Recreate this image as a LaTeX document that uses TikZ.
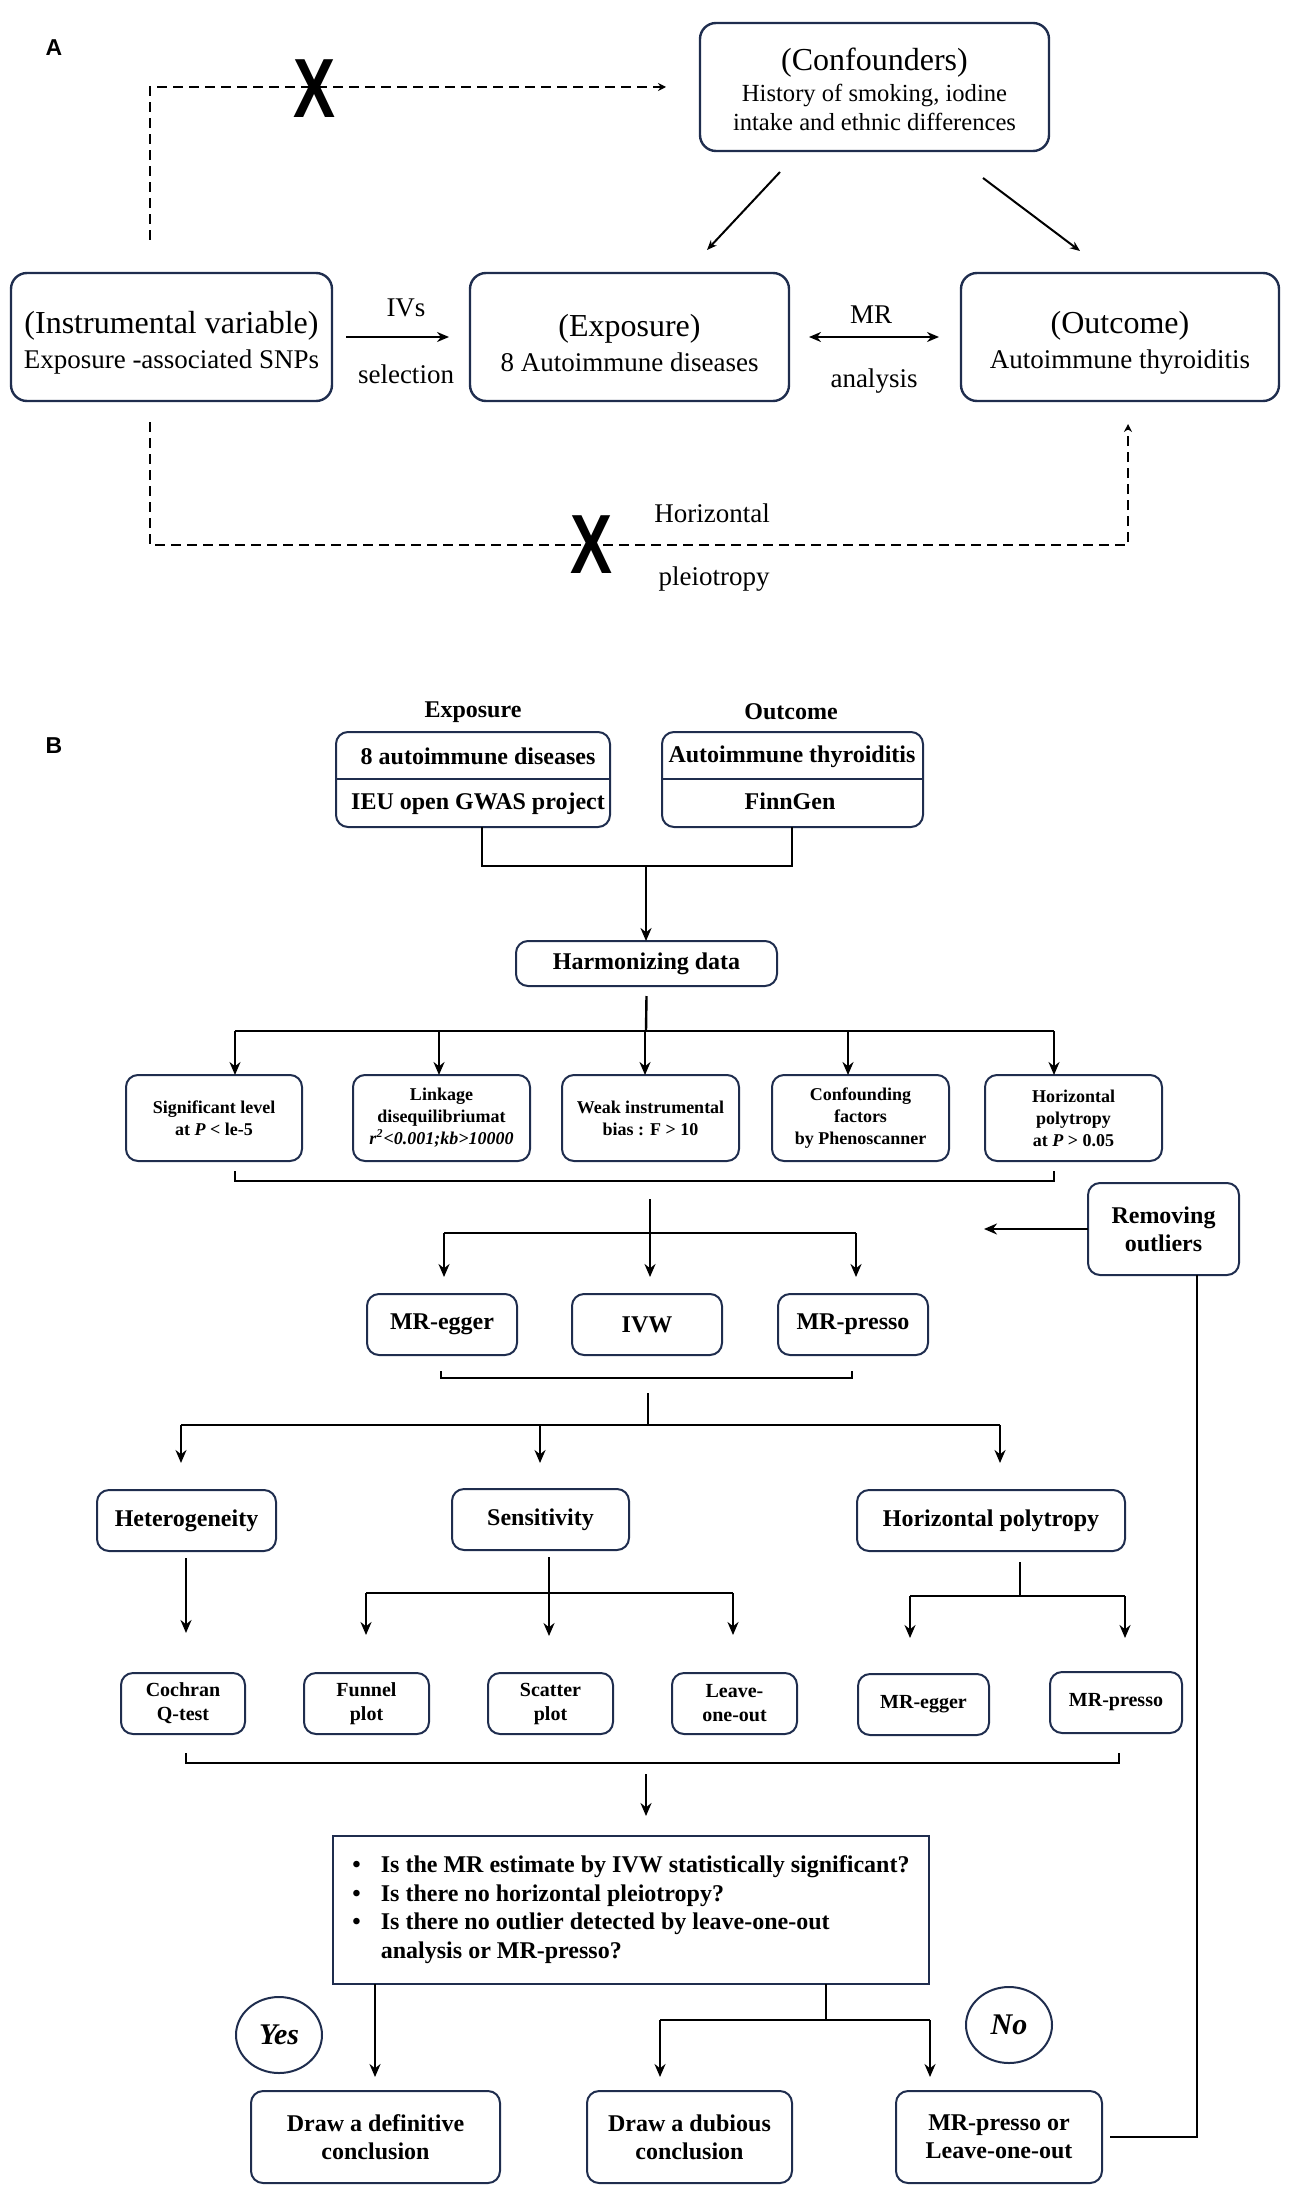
\documentclass[tikz,border=0pt]{standalone}
\usepackage{fontspec}
\setmainfont{Liberation Serif}
\newfontfamily\labfont{Liberation Sans}
\usetikzlibrary{arrows.meta,shapes.geometric}
\definecolor{navy}{HTML}{1F2D4E}
\begin{document}
\begin{tikzpicture}[x=0.5pt,y=-0.5pt,
  span/.style args={#1/#2/#3/#4}{at={({(#1+#3)/2},{(#2+#4)/2})}, minimum width={(#3-#1)*0.5pt}, minimum height={(#4-#2)*0.5pt}, outer sep=0pt},
  panellab/.style={font=\labfont\bfseries\fontsize{11.5}{13}\selectfont, inner sep=0pt},
  boxa/.style={draw=navy, line width=1.2pt, rounded corners=8pt, inner sep=0pt, align=center},
  atxt/.style={inner sep=0pt, align=center, font=\fontsize{13.5}{17.5}\selectfont},
  boxb/.style={draw=navy, line width=1pt, rounded corners=6pt, inner sep=0pt, align=center, font=\bfseries\fontsize{12}{14}\selectfont},
  smallb/.style={boxb, font=\bfseries\fontsize{9}{11}\selectfont},
  midb/.style={boxb, font=\bfseries\fontsize{10}{12}\selectfont},
  plaintxt/.style={inner sep=0pt, font=\fontsize{13.5}{16}\selectfont},
  btxt/.style={inner sep=0pt, font=\bfseries\fontsize{12}{14}\selectfont},
  crossmark/.style={inner sep=0pt, font=\labfont\bfseries\fontsize{42}{42}\selectfont},
  arrA/.style={line width=1.3pt, -{Stealth[length=6pt,width=5pt]}},
  dualA/.style={line width=1.3pt, {Stealth[length=6pt,width=5pt]}-{Stealth[length=6pt,width=5pt]}},
  thinA/.style={line width=1pt, -{Stealth[length=5pt,width=4pt]}},
  dashA/.style={line width=1.3pt, dash pattern=on 5pt off 3pt, -{Stealth[length=4pt,width=4pt]}},
  lineB/.style={line width=1.2pt},
  arrB/.style={line width=1.1pt, -{Stealth[length=6.5pt,width=5.5pt]}},
  oval/.style={draw=navy, line width=1pt, ellipse, inner sep=0pt, minimum width=43pt, minimum height=38pt, font=\bfseries\itshape\fontsize{15}{15}\selectfont},
]
\useasboundingbox (0,0) rectangle (1299,2193);

% ---------------- Panel A ----------------
\node[panellab] (labA) at (54,48) {A};
\node[boxa, span=700/23/1049/151] (conf) {};
\node[atxt, font=\fontsize{12.3}{14.5}\selectfont] (conft) at ([yshift=-1pt]conf.center)
  {{\fontsize{16}{18}\selectfont (Confounders)}\\[1pt]History of smoking, iodine\\intake and ethnic differences};
\node[boxa, span=11/273/332/401] (iv) {};
\node[atxt] (ivt) at ([yshift=-3pt]iv.center)
  {{\fontsize{16}{18}\selectfont (Instrumental variable)}\\Exposure -associated SNPs};
\node[boxa, span=470/273/789/401] (expA) {};
\node[atxt] (expAt) at ([yshift=-3pt]expA.center)
  {{\fontsize{16}{18}\selectfont (Exposure)}\\8 Autoimmune diseases};
\node[boxa, span=961/273/1279/401] (outA) {};
\node[atxt] (outAt) at ([yshift=-3pt]outA.center)
  {{\fontsize{16}{18}\selectfont (Outcome)}\\Autoimmune thyroiditis};

\coordinate (d1s) at (150,240);
\coordinate (d2s) at (150,422);
\coordinate (d2c) at (1128,545);
\coordinate (d2e) at (1128,424);
\draw[dashA, shorten >=17pt] (d1s) |- (conf.west);
\draw[dashA] (d2s) |- (d2c) -- (d2e);

\coordinate (ca1) at (780,172);
\coordinate (ca2) at (707,250);
\coordinate (cb1) at (983,178);
\coordinate (cb2) at (1080,251);
\draw[thinA] (ca1) -- (ca2);
\draw[thinA] (cb1) -- (cb2);

\draw[arrA, shorten <=7pt, shorten >=10.5pt] (iv) -- (expA);
\draw[dualA, shorten <=10pt, shorten >=11pt] (expA) -- (outA);

\node[plaintxt] (ivs) at (406,308) {IVs};
\node[plaintxt] (sel) at (406,374) {selection};
\node[plaintxt] (mr) at (871,315) {MR};
\node[plaintxt] (ana) at (874,381) {analysis};
\node[plaintxt] (hor) at (712,513) {Horizontal};
\node[plaintxt] (ple) at (714,579) {pleiotropy};

\node[crossmark] (xa) at (315,89) {\scalebox{0.75}[1]{X}};
\node[crossmark] (xb) at (592,545) {\scalebox{0.75}[1]{X}};

% ---------------- Panel B ----------------
\node[panellab] (labB) at (54,746) {B};
\node[btxt] (hdrE) at (473,712) {Exposure};
\node[btxt] (hdrO) at (791,712) {Outcome};

\node[boxb, span=336/732/610/827] (expB) {};
\node[boxb, span=662/732/923/827] (outB) {};
\coordinate (dv1) at (336,779);
\coordinate (dv2) at (662,779);
\draw[navy, line width=1pt] (dv1) -- (dv1 -| expB.east);
\draw[navy, line width=1pt] (dv2) -- (dv2 -| outB.east);
\node[btxt] (e1) at (478,756) {8 autoimmune diseases};
\node[btxt] (e2) at (478,804) {IEU open GWAS project};
\node[btxt] (o1) at (792,757) {Autoimmune thyroiditis};
\node[btxt] (o2) at (790,801) {FinnGen};

\coordinate (j1) at (482,866);
\coordinate (j2) at (792,866);
\coordinate (j0) at (646,866);
\node[boxb, span=516/941/777/986] (harm) {Harmonizing data};
\draw[lineB] (j1 |- expB.south) -- (j1) -- (j2) -- (j2 |- outB.south);
\draw[arrB] (j0) -- (j0 |- harm.north);

\node[smallb, span=126/1075/302/1161] (s1) {Significant level\\at \textit{P} < le-5};
\node[smallb, span=353/1075/530/1161] (s2) {Linkage\\disequilibriumat\\\textit{r\textsuperscript{2}<0.001;kb>10000}};
\node[smallb, span=562/1075/739/1161] (s3) {Weak instrumental\\bias : F > 10};
\node[smallb, span=772/1075/949/1161] (s4) {Confounding\\factors\\by Phenoscanner};
\node[smallb, span=985/1075/1162/1161] (s5) {Horizontal\\polytropy\\at \textit{P} > 0.05};

\coordinate (r0) at (646,1031);
\coordinate (r1) at (235,1031);
\coordinate (r2) at (439,1031);
\coordinate (r3) at (645,1031);
\coordinate (r4) at (848,1031);
\coordinate (r5) at (1054,1031);
\draw[lineB] ([yshift=-5pt]harm.south) -- (r0);
\draw[lineB] (r1) -- (r5);
\draw[arrB] (r1) -- (r1 |- s1.north);
\draw[arrB] (r2) -- (r2 |- s2.north);
\draw[arrB] (r3) -- (r3 |- s3.north);
\draw[arrB] (r4) -- (r4 |- s4.north);
\draw[arrB] (r5) -- (r5 |- s5.north);

\coordinate (b1l) at (235,1171);
\coordinate (b1r) at (1054,1171);
\draw[lineB] (b1l) -- ++(0,10) -| (b1r);

\node[boxb, span=367/1294/517/1355] (mre) {MR-egger};
\node[boxb, span=572/1294/722/1355] (ivw) {IVW};
\node[boxb, span=778/1294/928/1355] (mrp) {MR-presso};
\node[boxb, span=1088/1183/1239/1275] (rem) {Removing\\outliers};

\coordinate (c1) at (650,1199);
\coordinate (m1) at (444,1233);
\coordinate (m3) at (856,1233);
\draw[arrB, shorten >=8.5pt] (c1) -- (c1 |- ivw.north);
\draw[lineB] (m1) -- (m3);
\draw[arrB, shorten >=8.5pt] (m1) -- (m1 |- mre.north);
\draw[arrB, shorten >=8.5pt] (m3) -- (m3 |- mrp.north);
\coordinate (remtip) at (984,1229);
\draw[arrB, line width=1.4pt] (rem.west) -- (remtip);

\coordinate (b2l) at (441,1371);
\coordinate (b2r) at (852,1371);
\draw[lineB] (b2l) -- ++(0,7) -| (b2r);

\node[boxb, span=97/1490/276/1551] (het) {Heterogeneity};
\node[boxb, span=452/1489/629/1550] (sen) {Sensitivity};
\node[boxb, span=857/1490/1125/1551] (hp) {Horizontal polytropy};

\coordinate (c2) at (648,1393);
\coordinate (c2h) at (648,1425);
\coordinate (n1) at (181,1425);
\coordinate (n2) at (540,1425);
\coordinate (n3) at (1000,1425);
\draw[lineB] (c2) -- (c2h);
\draw[lineB] (n1) -- (n3);
\draw[arrB, shorten >=13.5pt] (n1) -- (n1 |- het.north);
\draw[arrB, shorten >=13pt] (n2) -- (n2 |- sen.north);
\draw[arrB, shorten >=13.5pt] (n3) -- (n3 |- hp.north);

\node[midb, span=121/1673/245/1734] (coch) {Cochran\\Q-test};
\node[midb, span=304/1673/429/1734] (fun) {Funnel\\plot};
\node[midb, span=488/1673/613/1734] (sca) {Scatter\\plot};
\node[midb, span=672/1673/797/1734] (leo) {Leave-\\one-out};
\node[midb, span=858/1674/989/1735] (mre2) {MR-egger};
\node[midb, span=1050/1672/1182/1733] (mrp2) {MR-presso};

\coordinate (hz) at (186,1558);
\draw[arrB, shorten >=20pt] (hz) -- (hz |- coch.north);
\coordinate (sz) at (549,1557);
\coordinate (f1) at (366,1593);
\coordinate (f3) at (733,1593);
\draw[arrB, shorten >=18.5pt] (sz) -- (sz |- sca.north);
\draw[lineB] (f1) -- (f3);
\draw[arrB, shorten >=19pt] (f1) -- (f1 |- fun.north);
\draw[arrB, shorten >=19pt] (f3) -- (f3 |- leo.north);
\coordinate (pz) at (1020,1562);
\coordinate (ph) at (1020,1596);
\coordinate (g1) at (910,1596);
\coordinate (g2) at (1125,1596);
\draw[lineB] (pz) -- (ph);
\draw[lineB] (g1) -- (g2);
\draw[arrB, shorten >=18pt] (g1) -- (g1 |- mre2.north);
\draw[arrB, shorten >=17pt] (g2) -- (g2 |- mrp2.north);

\coordinate (b3l) at (186,1753);
\coordinate (b3r) at (1119,1753);
\draw[lineB] (b3l) -- ++(0,10) -| (b3r);

\node[draw=navy, line width=1.1pt, inner sep=0pt, span=333/1836/929/1984, font=\bfseries\fontsize{12}{14.25}\selectfont] (dec)
  {\begin{tabular}{@{}c@{\hspace{10pt}}l@{}}
   \textbullet & Is the MR estimate by IVW statistically significant?\\
   \textbullet & Is there no horizontal pleiotropy?\\
   \textbullet & Is there no outlier detected by leave-one-out\\
               & analysis or MR-presso?
   \end{tabular}};
\coordinate (d0) at (646,1774);
\draw[arrB, shorten >=10pt] (d0) -- (d0 |- dec.north);

\node[boxb, span=251/2091/500/2183] (def) {Draw a definitive\\conclusion};
\node[boxb, span=587/2091/792/2183] (dub) {Draw a dubious\\conclusion};
\node[boxb, span=896/2091/1102/2183] (mpl) {MR-presso or\\Leave-one-out};
\node[oval] (yes) at (279,2035) {Yes};
\node[oval] (no) at (1009,2025) {No};

\coordinate (yl) at (375,1984);
\draw[arrB, shorten >=7pt] (yl) -- (yl |- def.north);
\coordinate (nz) at (826,1984);
\coordinate (nh) at (826,2020);
\coordinate (k1) at (660,2020);
\coordinate (k2) at (930,2020);
\draw[lineB] (nz) -- (nh);
\draw[lineB] (k1) -- (k2);
\draw[arrB, shorten >=7pt] (k1) -- (k1 |- dub.north);
\draw[arrB, shorten >=7pt] (k2) -- (k2 |- mpl.north);
\coordinate (lp) at (1197,2137);
\draw[line width=1.4pt, shorten <=4pt] (mpl.east) -- (lp) -- (lp |- rem.south);
\end{tikzpicture}
\end{document}
